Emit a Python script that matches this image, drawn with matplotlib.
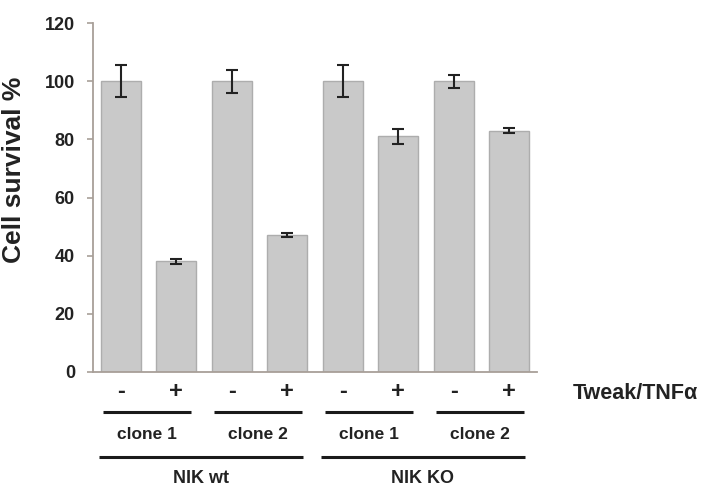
import matplotlib
matplotlib.use('Agg')
from matplotlib import pyplot as plt
import numpy as np

plt.rcParams['font.family'] = ['Liberation Sans', 'DejaVu Sans']
plt.rcParams['font.weight'] = 'bold'

# data
groups = ['NIK wt', 'NIK KO']
clones = ['clone 1', 'clone 2', 'clone 1', 'clone 2']
treatment = ['-', '+', '-', '+', '-', '+', '-', '+']
survival = [100, 38, 100, 47, 100, 81, 100, 83]
errors = [5.5, 0.7, 4, 0.7, 5.5, 2.5, 2.3, 0.8]
yticks = [0, 20, 40, 60, 80, 100, 120]

text_col = '#222222'
axis_col = '#a89f98'

fig = plt.figure(figsize=(7.15, 4.92), dpi=100)
ax = fig.add_axes([0.130, 0.244, 0.621, 0.709])

x = np.arange(len(survival))
ax.bar(x, survival, width=0.72, color='#c9c9c9', edgecolor='#adadad', linewidth=1.0)
ax.errorbar(x, survival, yerr=errors, fmt='none', ecolor='#222222',
            elinewidth=1.5, capsize=4, capthick=1.5)

ax.set_xlim(-0.5, 7.5)
ax.set_ylim(0, 120)
ax.set_yticks(yticks)
ax.set_yticklabels([str(t) for t in yticks], fontsize=13, fontweight='bold', color=text_col)
ax.set_xticks([])
for s in ['top', 'right']:
    ax.spines[s].set_visible(False)
for s in ['left', 'bottom']:
    ax.spines[s].set_color(axis_col)
    ax.spines[s].set_linewidth(1.3)
ax.tick_params(axis='y', colors=axis_col, length=4, width=1.2, pad=9, labelcolor=text_col)
ax.set_ylabel('Cell survival %', fontsize=19, fontweight='bold', color=text_col)
ax.yaxis.set_label_coords(-0.15, 0.58)

trans = ax.get_xaxis_transform()

# treatment signs
for xi, t in zip(x, treatment):
    ax.text(xi, -0.055, t, transform=trans, ha='center', va='center',
            fontsize=17, fontweight='bold', color=text_col)
ax.text(8.15, -0.063, 'Tweak/TNF\u03b1', transform=trans, ha='left', va='center',
        fontsize=15.5, fontweight='bold', color=text_col)

# clone lines and labels
for i, c in enumerate(clones):
    x0, x1 = 2 * i - 0.32, 2 * i + 1.26
    ax.plot([x0, x1], [-0.115, -0.115], transform=trans, color='#1a1a1a', lw=2.2,
            clip_on=False, solid_capstyle='butt')
    ax.text((x0 + x1) / 2, -0.18, c, transform=trans, ha='center', va='center',
            fontsize=12.5, fontweight='bold', color=text_col)

# group lines and labels
for j, g in enumerate(groups):
    x0, x1 = 4 * j - 0.4, 4 * j + 3.28
    ax.plot([x0, x1], [-0.244, -0.244], transform=trans, color='#1a1a1a', lw=2.2,
            clip_on=False, solid_capstyle='butt')
    ax.text((x0 + x1) / 2, -0.305, g, transform=trans, ha='center', va='center',
            fontsize=13, fontweight='bold', color=text_col)

fig.savefig('out.png', dpi=100)
